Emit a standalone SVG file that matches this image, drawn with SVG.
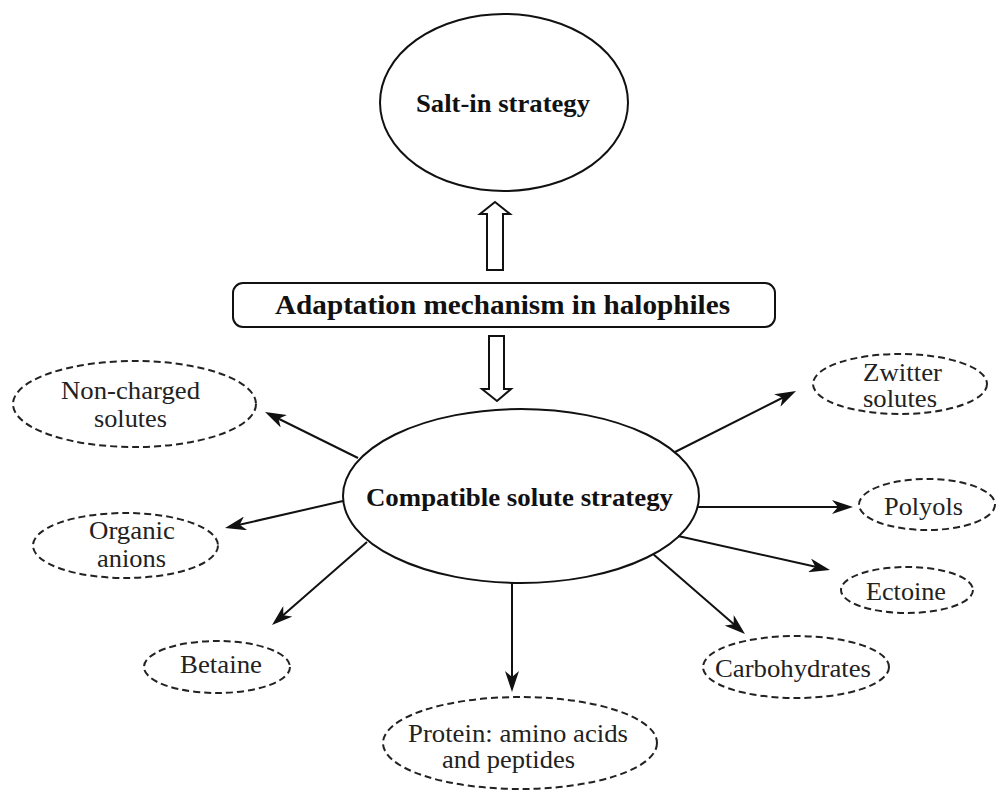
<svg xmlns="http://www.w3.org/2000/svg" width="997" height="791" viewBox="0 0 997 791">
<style>
.solid{fill:#fff;stroke:#111;stroke-width:2}
.dash{fill:#fff;stroke:#222;stroke-width:2;stroke-dasharray:7 4}
.hollow{fill:#fff;stroke:#111;stroke-width:2;stroke-linejoin:miter}
.bold{font-family:"Liberation Serif","Times New Roman",serif;font-weight:bold;font-size:26px;fill:#111;text-anchor:middle}
.reg{font-family:"Liberation Serif","Times New Roman",serif;font-size:25px;fill:#222;text-anchor:middle}
.conn line{stroke:#111;stroke-width:2;marker-end:url(#ah)}
</style>
<defs>
<marker id="ah" markerUnits="userSpaceOnUse" viewBox="0 0 21 14" refX="12" refY="7" markerWidth="21" markerHeight="14" orient="auto">
<path d="M0,0 L21,7 L0,14 L6,7 z" fill="#111"/>
</marker>
</defs>
<rect width="997" height="791" fill="#fff"/>

<g id="salt-in">
<ellipse class="solid" cx="504" cy="102.5" rx="124" ry="88.5"/>
<text class="bold" x="503" y="112" textLength="174" lengthAdjust="spacingAndGlyphs">Salt-in strategy</text>
</g>

<g id="adaptation">
<rect class="solid" x="233" y="283" width="542" height="44" rx="10" ry="10"/>
<text class="bold" x="502.5" y="314" style="font-size:28px" textLength="455" lengthAdjust="spacingAndGlyphs">Adaptation mechanism in halophiles</text>
</g>

<g id="compatible">
<ellipse class="solid" cx="521" cy="496" rx="178" ry="87"/>
<text class="bold" x="519.5" y="506" textLength="307" lengthAdjust="spacingAndGlyphs">Compatible solute strategy</text>
</g>

<g id="non-charged">
<ellipse class="dash" cx="134.5" cy="404" rx="121.5" ry="43"/>
<text class="reg" x="130.5" y="399" textLength="139" lengthAdjust="spacingAndGlyphs">Non-charged</text>
<text class="reg" x="130.5" y="427" textLength="73" lengthAdjust="spacingAndGlyphs">solutes</text>
</g>

<g id="organic-anions">
<ellipse class="dash" cx="125.5" cy="545.5" rx="92.5" ry="32.5"/>
<text class="reg" x="132" y="539" textLength="86" lengthAdjust="spacingAndGlyphs">Organic</text>
<text class="reg" x="131.5" y="567" textLength="69" lengthAdjust="spacingAndGlyphs">anions</text>
</g>

<g id="betaine">
<ellipse class="dash" cx="217" cy="667" rx="73" ry="26"/>
<text class="reg" x="221" y="673" textLength="82" lengthAdjust="spacingAndGlyphs">Betaine</text>
</g>

<g id="protein">
<ellipse class="dash" cx="520" cy="743" rx="137" ry="46"/>
<text class="reg" x="518" y="742" textLength="220" lengthAdjust="spacingAndGlyphs">Protein: amino acids</text>
<text class="reg" x="508.5" y="768" textLength="133" lengthAdjust="spacingAndGlyphs">and peptides</text>
</g>

<g id="zwitter">
<ellipse class="dash" cx="900" cy="384" rx="87" ry="30"/>
<text class="reg" x="902.5" y="381" textLength="79" lengthAdjust="spacingAndGlyphs">Zwitter</text>
<text class="reg" x="900" y="407" textLength="74" lengthAdjust="spacingAndGlyphs">solutes</text>
</g>

<g id="polyols">
<ellipse class="dash" cx="927" cy="504.5" rx="68" ry="25.5"/>
<text class="reg" x="923.5" y="515" textLength="79" lengthAdjust="spacingAndGlyphs">Polyols</text>
</g>

<g id="ectoine">
<ellipse class="dash" cx="907" cy="590" rx="66" ry="23"/>
<text class="reg" x="906" y="600" textLength="80" lengthAdjust="spacingAndGlyphs">Ectoine</text>
</g>

<g id="carbohydrates">
<ellipse class="dash" cx="796" cy="667" rx="93" ry="31"/>
<text class="reg" x="793" y="677" textLength="156" lengthAdjust="spacingAndGlyphs">Carbohydrates</text>
</g>

<g id="connectors">
<polygon class="hollow" points="495,202 510,214 503,214 503,270 487,270 487,214 480,214"/>
<polygon class="hollow" points="489,336 504,336 504,389 511,389 497,401 482,389 489,389"/>
<g class="conn">
<line x1="358" y1="458" x2="273.1" y2="416"/>
<line x1="343" y1="501" x2="233.8" y2="526"/>
<line x1="367" y1="542" x2="278.8" y2="619.1"/>
<line x1="512" y1="583" x2="512" y2="683"/>
<line x1="675" y1="452" x2="788" y2="395"/>
<line x1="698" y1="507" x2="844" y2="507"/>
<line x1="678" y1="536" x2="821.2" y2="568"/>
<line x1="653" y1="554" x2="738.2" y2="628.1"/>
</g>
</g>
</svg>
